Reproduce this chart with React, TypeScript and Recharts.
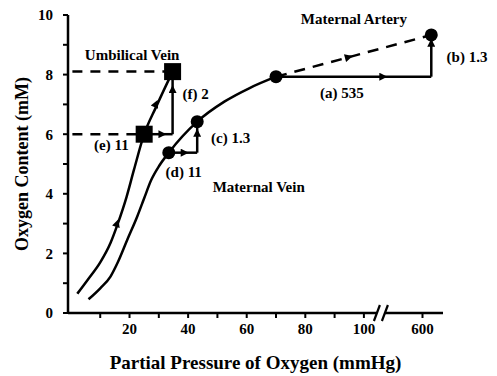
import {
  ComposedChart,
  Line,
  Scatter,
  XAxis,
  YAxis,
  ReferenceDot,
} from "recharts";

const FONT = "'Liberation Serif', 'Times New Roman', serif";
const INK = "#000";

// x is the axis position in mmHg; past the break, 600 mmHg sits at 120
const fetalCurve = [
  { x: 2.2, y: 0.65 },
  { x: 6, y: 1.15 },
  { x: 10, y: 1.7 },
  { x: 13.5, y: 2.35 },
  { x: 16, y: 3.0 },
  { x: 19, y: 3.9 },
  { x: 21.5, y: 4.8 },
  { x: 25, y: 6.0 },
  { x: 29, y: 6.9 },
  { x: 34.7, y: 8.1 },
];

const maternalCurve = [
  { x: 6, y: 0.46 },
  { x: 10, y: 0.83 },
  { x: 13.5, y: 1.22 },
  { x: 16, y: 1.7 },
  { x: 19.2, y: 2.45 },
  { x: 22.6, y: 3.23 },
  { x: 25, y: 3.85 },
  { x: 27.4, y: 4.46 },
  { x: 30.2, y: 4.95 },
  { x: 33.4, y: 5.38 },
  { x: 43.1, y: 6.42 },
  { x: 52.5, y: 7.1 },
  { x: 61, y: 7.55 },
  { x: 70, y: 7.93 },
];

const circlePoints = [
  { x: 33.4, y: 5.38 },
  { x: 43.1, y: 6.42 },
  { x: 70, y: 7.93 },
  { x: 123, y: 9.33 },
];
const squarePoints = [
  { x: 25, y: 6.0 },
  { x: 34.7, y: 8.1 },
];

const umbilicalDashHigh = [
  { x: 0.5, y: 8.1 },
  { x: 34.7, y: 8.1 },
];
const umbilicalDashLow = [
  { x: 0.5, y: 6.0 },
  { x: 25, y: 6.0 },
];
const arteryDash = [
  { x: 70, y: 7.93 },
  { x: 96.2, y: 8.62 },
  { x: 123, y: 9.33 },
];

// arrows: start, arrow tip, end
const arrowE = [
  { x: 25, y: 6.0 },
  { x: 32.6, y: 6.0 },
  { x: 34.7, y: 6.0 },
];
const arrowF = [
  { x: 34.7, y: 6.0 },
  { x: 34.7, y: 7.65 },
  { x: 34.7, y: 8.1 },
];
const arrowD = [
  { x: 33.4, y: 5.38 },
  { x: 40.2, y: 5.38 },
  { x: 43.1, y: 5.38 },
];
const arrowC = [
  { x: 43.1, y: 5.38 },
  { x: 43.1, y: 6.18 },
  { x: 43.1, y: 6.42 },
];
const arrowA = [
  { x: 70, y: 7.93 },
  { x: 108, y: 7.93 },
  { x: 123, y: 7.93 },
];
const arrowB = [
  { x: 123, y: 7.93 },
  { x: 123, y: 9.2 },
  { x: 123, y: 9.33 },
];
const fetalArrowLow = [
  { x: 15.2, y: 2.85 },
  { x: 16.2, y: 3.15 },
  { x: 17.2, y: 3.45 },
];
const fetalArrowHigh = [
  { x: 28.6, y: 6.93 },
  { x: 29.6, y: 7.15 },
  { x: 30.6, y: 7.37 },
];

const xTicks = [10, 20, 30, 40, 50, 60, 70, 80, 90, 100, 120];
const xTickLabels: Record<number, string> = {
  20: "20",
  40: "40",
  60: "60",
  80: "80",
  100: "100",
  120: "600",
};
const yTicks = [0, 1, 2, 3, 4, 5, 6, 7, 8, 9, 10];

const notes = [
  { text: "Umbilical Vein", x: 20.9, y: 8.66 },
  { text: "(e) 11", x: 13.8, y: 5.64 },
  { text: "(f) 2", x: 42.6, y: 7.35 },
  { text: "(d) 11", x: 38.5, y: 4.73 },
  { text: "(c) 1.3", x: 54.5, y: 5.87 },
  { text: "Maternal Vein", x: 64.1, y: 4.23 },
  { text: "Maternal Artery", x: 96.6, y: 9.87 },
  { text: "(a) 535", x: 92.5, y: 7.38 },
  { text: "(b) 1.3", x: 135.2, y: 8.59 },
];

const tickStyle = {
  fill: INK,
  fontSize: 15,
  fontWeight: "bold",
  fontFamily: FONT,
};

const Dot = (p: any) => <circle cx={p.cx} cy={p.cy} r={6.5} fill={INK} />;
const Square = (p: any) => (
  <rect x={p.cx - 8.5} y={p.cy - 8.5} width={17} height={17} fill={INK} />
);

const BreakMark = (p: any) => (
  <g>
    <rect x={p.cx - 4} y={p.cy - 3} width={8} height={6} fill="#fff" />
    <line x1={p.cx - 7} y1={p.cy + 8} x2={p.cx - 1} y2={p.cy - 8} stroke={INK} strokeWidth={2.2} />
    <line x1={p.cx + 1} y1={p.cy + 8} x2={p.cx + 7} y2={p.cy - 8} stroke={INK} strokeWidth={2.2} />
  </g>
);

const lineProps = {
  dataKey: "y",
  type: "linear" as const,
  stroke: INK,
  strokeWidth: 2.5,
  dot: false,
  activeDot: false,
  isAnimationActive: false,
};

export default function App() {
  return (
    <div style={{ position: "absolute", left: 0, top: 0, background: "#fff" }}>
      <ComposedChart
        width={497}
        height={376}
        margin={{ top: 15, right: 54, bottom: 0, left: 0 }}
      >
        <defs>
          <marker
            id="arrowHead"
            viewBox="0 0 10 10"
            refX="10"
            refY="5"
            markerWidth="10"
            markerHeight="8"
            markerUnits="userSpaceOnUse"
            orient="auto"
          >
            <path d="M0,0 L10,5 L0,10 z" fill={INK} />
          </marker>
        </defs>

        <XAxis
          type="number"
          dataKey="x"
          domain={[-1, 127]}
          allowDataOverflow
          ticks={xTicks}
          tickFormatter={(v: number) => xTickLabels[v] ?? ""}
          tick={tickStyle}
          tickSize={5}
          tickMargin={5}
          height={63}
          axisLine={{ stroke: INK, strokeWidth: 2.5 }}
          tickLine={{ stroke: INK, strokeWidth: 2 }}
          label={{
            content: (p: any) => (
              <text
                x={p.viewBox.x + p.viewBox.width / 2}
                y={362}
                textAnchor="middle"
                dominantBaseline="central"
                fontFamily={FONT}
                fontWeight="bold"
                fontSize={19}
                fill={INK}
              >
                Partial Pressure of Oxygen (mmHg)
              </text>
            ),
          }}
        />
        <YAxis
          type="number"
          domain={[0, 10]}
          ticks={yTicks}
          tickFormatter={(v: number) => (v % 2 === 0 ? String(v) : "")}
          tick={tickStyle}
          tickSize={5}
          tickMargin={10}
          width={68}
          axisLine={{ stroke: INK, strokeWidth: 2.5 }}
          tickLine={{ stroke: INK, strokeWidth: 2 }}
          label={{
            content: (p: any) => {
              const cx = 22;
              const cy = p.viewBox.y + p.viewBox.height / 2;
              return (
                <text
                  x={cx}
                  y={cy}
                  transform={`rotate(-90, ${cx}, ${cy})`}
                  textAnchor="middle"
                  dominantBaseline="central"
                  fontFamily={FONT}
                  fontWeight="bold"
                  fontSize={18}
                  fill={INK}
                >
                  Oxygen Content (mM)
                </text>
              );
            },
          }}
        />

        {/* dissociation curves */}
        <Line {...lineProps} data={fetalCurve} type="monotone" />
        <Line {...lineProps} data={maternalCurve} type="monotone" />

        {/* dashed guides */}
        <Line {...lineProps} data={umbilicalDashHigh} strokeDasharray="10 8" />
        <Line {...lineProps} data={umbilicalDashLow} strokeDasharray="10 8" />
        <Line {...lineProps} data={arteryDash} strokeDasharray="11 8" markerMid="url(#arrowHead)" />

        {/* step arrows */}
        <Line {...lineProps} data={arrowE} markerMid="url(#arrowHead)" />
        <Line {...lineProps} data={arrowF} markerMid="url(#arrowHead)" />
        <Line {...lineProps} data={arrowD} markerMid="url(#arrowHead)" />
        <Line {...lineProps} data={arrowC} markerMid="url(#arrowHead)" />
        <Line {...lineProps} data={arrowA} markerMid="url(#arrowHead)" />
        <Line {...lineProps} data={arrowB} markerMid="url(#arrowHead)" />
        <Line {...lineProps} data={fetalArrowLow} stroke="none" markerMid="url(#arrowHead)" />
        <Line {...lineProps} data={fetalArrowHigh} stroke="none" markerMid="url(#arrowHead)" />

        <Scatter data={circlePoints} dataKey="y" shape={Dot} isAnimationActive={false} />
        <Scatter data={squarePoints} dataKey="y" shape={Square} isAnimationActive={false} />

        {notes.map((n) => (
          <ReferenceDot
            key={n.text}
            x={n.x}
            y={n.y}
            r={0}
            ifOverflow="visible"
            shape={(p: any) => (
              <text
                x={p.cx}
                y={p.cy}
                textAnchor="middle"
                dominantBaseline="central"
                fontFamily={FONT}
                fontWeight="bold"
                fontSize={15}
                fill={INK}
              >
                {n.text}
              </text>
            )}
          />
        ))}

        <ReferenceDot x={105.8} y={0} r={0} ifOverflow="visible" shape={BreakMark} />
      </ComposedChart>
    </div>
  );
}
